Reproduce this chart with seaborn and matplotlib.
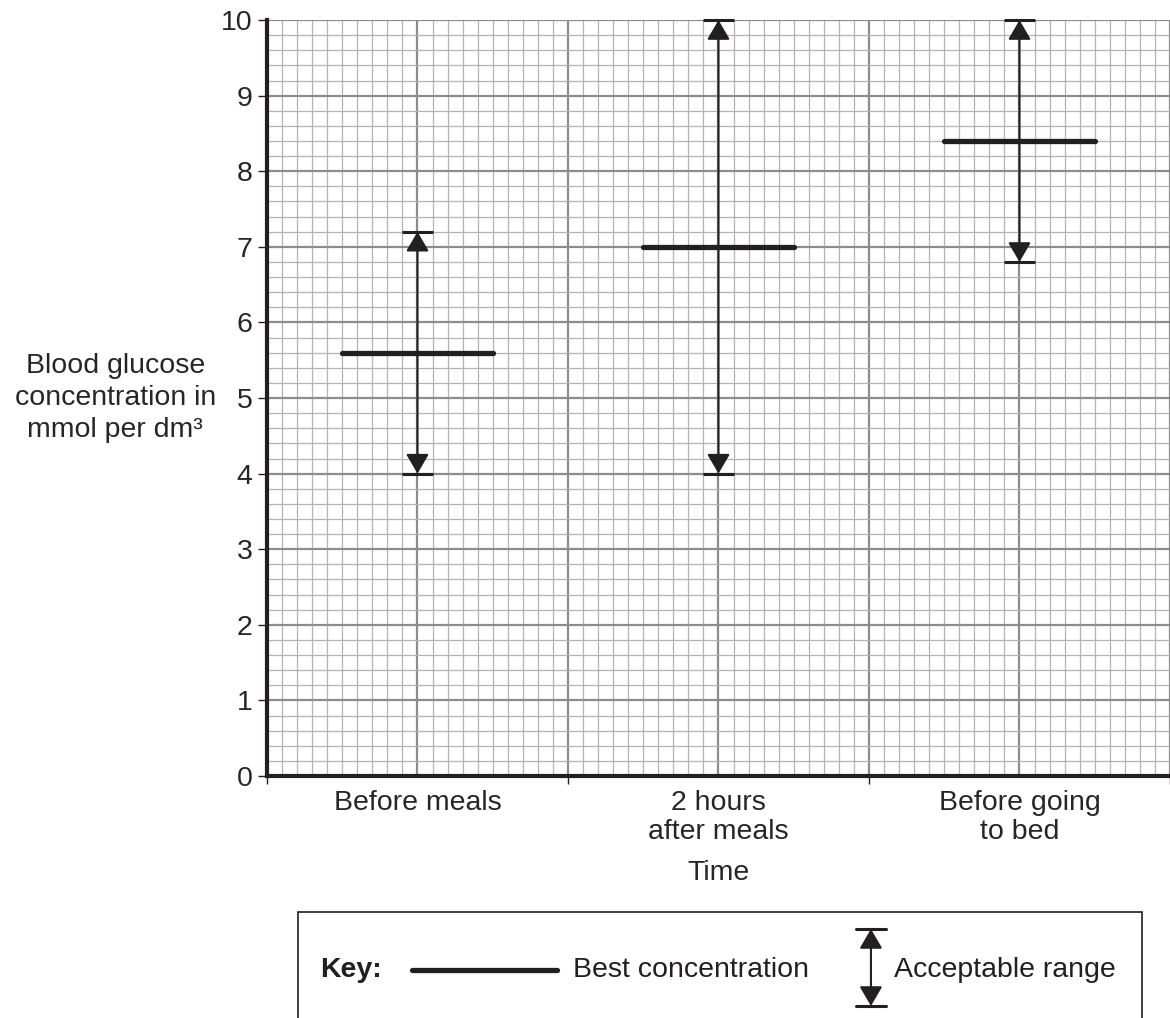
import numpy as np
import pandas as pd
import seaborn as sns
import matplotlib.pyplot as plt
from matplotlib.patches import Rectangle, FancyArrowPatch
from matplotlib.lines import Line2D

# data
times = ['Before meals', '2 hours\nafter meals', 'Before going\nto bed']
best = [5.6, 7.0, 8.4]
range_low = [4.0, 4.0, 6.8]
range_high = [7.2, 10.0, 10.0]

sns.set_theme(style='white')
plt.rcParams['font.family'] = ['Liberation Sans', 'DejaVu Sans']
plt.rcParams['text.color'] = '#231f20'

fig = plt.figure(figsize=(11.7, 10.18), dpi=100)
ax = fig.add_axes([0.2282, 0.2377, 0.7718, 0.7426])

# graph paper grid
for v in np.round(np.arange(0, 3.001, 0.05), 2):
    major = abs(v * 2 - round(v * 2)) < 1e-6
    ax.axvline(v, color='#8c8c8c' if major else '#b3b3b3',
               lw=1.6 if major else 0.9, zorder=0)
for v in np.round(np.arange(0, 10.001, 0.2), 1):
    major = abs(v - round(v)) < 1e-6
    ax.axhline(v, color='#8c8c8c' if major else '#b3b3b3',
               lw=1.6 if major else 0.9, zorder=0)

# best concentration lines (half a category wide, centred)
rows = []
for i, t in enumerate(times):
    rows.append({'time': t, 'x': i + 0.25, 'best': best[i]})
    rows.append({'time': t, 'x': i + 0.75, 'best': best[i]})
df = pd.DataFrame(rows)
sns.lineplot(data=df, x='x', y='best', units='time', estimator=None,
             color='#231f20', lw=3.8, ax=ax, zorder=3, legend=False)

# acceptable ranges: double arrows with caps
for i in range(len(times)):
    xc = i + 0.5
    ax.hlines([range_low[i], range_high[i]], xc - 0.05, xc + 0.05,
              color='#231f20', lw=2.2, zorder=3, clip_on=False)
    ax.annotate('', xy=(xc, range_high[i]), xytext=(xc, range_low[i]),
                arrowprops=dict(arrowstyle='<|-|>,head_length=0.6,head_width=0.35',
                                color='#231f20', lw=1.5, mutation_scale=20,
                                shrinkA=0, shrinkB=0), zorder=4)

ax.set_xlim(0, 3)
ax.set_ylim(0, 10)
ax.set_yticks(range(0, 11))
ax.set_xticks([0, 1, 2, 3], ['', '', '', ''])
ax.set_xticks([0.5, 1.5, 2.5], times, minor=True)
ax.tick_params(axis='y', which='major', left=True, length=6.5, width=1,
               color='#231f20', labelsize=20.5, pad=4)
ax.tick_params(axis='x', which='major', bottom=True, length=6, width=1,
               color='#231f20')
ax.tick_params(axis='x', which='minor', bottom=True, length=0, labelsize=20.5,
               pad=10)
for lab in ax.get_xticklabels(minor=True):
    lab.set_linespacing(1.15)

for s in ['top', 'right']:
    ax.spines[s].set_visible(False)
for s in ['left', 'bottom']:
    ax.spines[s].set_color('#231f20')
    ax.spines[s].set_linewidth(3)
    ax.spines[s].set_zorder(5)

ax.set_xlabel('Time', fontsize=20.5, va='center')
ax.xaxis.set_label_coords(0.5, -0.128)
ax.set_ylabel('Blood glucose\nconcentration in\nmmol per dm³', fontsize=20.5,
              rotation=0, ha='center', va='center', linespacing=1.3)
ax.yaxis.set_label_coords(-0.168, 0.5)

# key box
fig.patches.append(Rectangle((0.2547, -0.1), 0.7214, 0.2041, transform=fig.transFigure,
                             fill=False, edgecolor='#231f20', lw=1.2))
ky = 1 - 970 / 1018
fig.text(0.2735, ky, 'Key:', fontsize=20.5, fontweight='bold', va='center')
fig.add_artist(Line2D([0.3521, 0.4761], [ky, ky], color='#231f20', lw=3.8))
fig.text(0.4897, ky, 'Best concentration', fontsize=20.5, va='center')
kx = 0.7444
y_top = 1 - 929 / 1018
y_bot = 1 - 1006 / 1018
fig.add_artist(Line2D([kx - 0.0128, kx + 0.0128], [y_top, y_top], color='#231f20', lw=2.2))
fig.add_artist(Line2D([kx - 0.0128, kx + 0.0128], [y_bot, y_bot], color='#231f20', lw=2.2))
fig.patches.append(FancyArrowPatch(
    (kx, y_bot), (kx, y_top), transform=fig.transFigure,
    arrowstyle='<|-|>,head_length=0.6,head_width=0.35', color='#231f20',
    lw=1.5, mutation_scale=20, shrinkA=0, shrinkB=0))
fig.text(0.7641, ky, 'Acceptable range', fontsize=20.5, va='center')

fig.savefig('out.png', dpi=100)
